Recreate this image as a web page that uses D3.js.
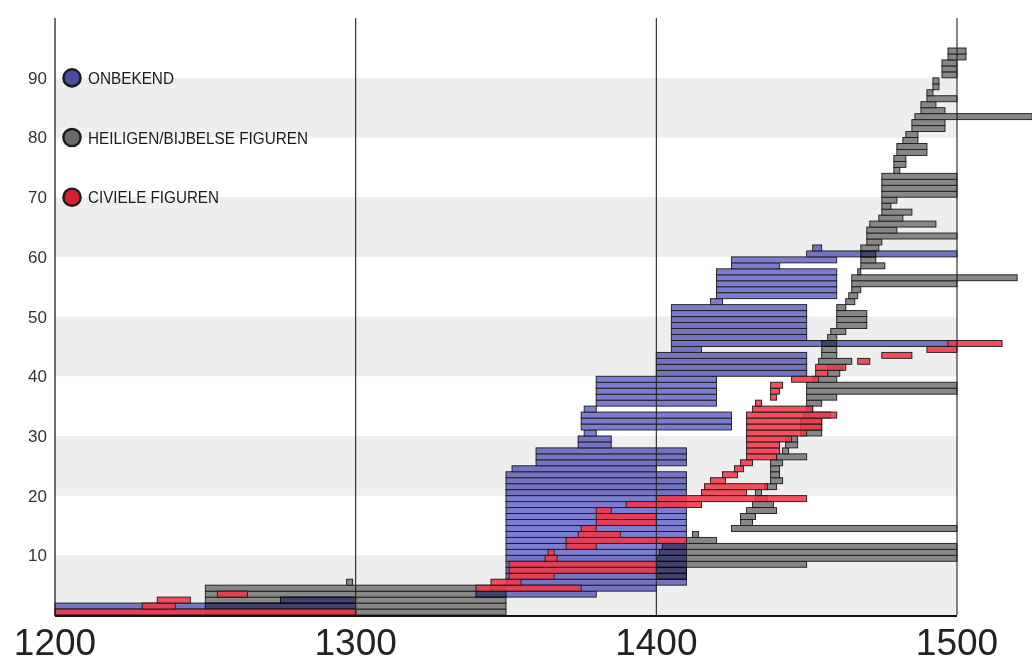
<!DOCTYPE html>
<html><head><meta charset="utf-8">
<script src="https://cdn.jsdelivr.net/npm/d3@7"></script>
<style>html,body{margin:0;padding:0;background:#fff;}svg{display:block;}</style>
</head><body>
<svg id="chart" width="1032" height="664"></svg>
<script>
// ---- data: one [start, end] per row (row = index+1), per category ----
const onbekend = [
 [1200,1300],[1200,1300],[1275,1300],[1340,1380],[1345,1400],
 [1350,1410],[1350,1410],[1350,1410],[1350,1410],[1350,1410],
 [1350,1410],[1350,1410],[1350,1410],[1350,1410],[1350,1410],
 [1350,1410],[1350,1410],[1350,1410],[1350,1410],[1350,1410],
 [1350,1410],[1350,1410],[1350,1410],[1350,1410],[1352,1400],
 [1360,1410],[1360,1410],[1360,1410],[1374,1385],[1374,1385],
 [1376,1380],[1375,1425],[1375,1425],[1375,1425],[1376,1380],
 [1380,1420],[1380,1420],[1380,1420],[1380,1420],[1380,1420],
 [1400,1450],[1400,1450],[1400,1450],[1400,1450],[1405,1415],
 [1405,1500],[1405,1450],[1405,1450],[1405,1450],[1405,1450],
 [1405,1450],[1405,1450],[1418,1422],[1420,1460],[1420,1460],
 [1420,1460],[1420,1460],[1420,1460],[1425,1441],[1425,1460],
 [1450,1500],[1452,1455]
];
const heiligen = [
 [1250,1350],[1250,1350],[1250,1350],[1250,1350],[1250,1350],
 [1297,1299],[1400,1410],[1400,1410],[1400,1450],[1400,1500],
 [1401,1500],[1402,1500],[1410,1420],[1412,1414],[1425,1500],
 [1428,1432],[1428,1433],[1430,1440],[1432,1439],[1433,1437],
 [1433,1435],[1436,1440],[1438,1442],[1438,1441],[1438,1441],
 [1438,1442],[1440,1450],[1442,1444],[1443,1447],[1443,1447],
 [1448,1455],[1448,1455],[1448,1455],[1449,1458],[1450,1452],
 [1450,1455],[1450,1460],[1450,1500],[1450,1500],[1452,1460],
 [1457,1461],[1457,1462],[1454,1465],[1455,1460],[1455,1460],
 [1455,1460],[1457,1460],[1458,1463],[1460,1470],[1460,1470],
 [1460,1470],[1460,1463],[1463,1466],[1464,1467],[1465,1468],
 [1465,1500],[1465,1520],[1467,1468],[1468,1476],[1468,1473],
 [1468,1473],[1468,1474],[1470,1475],[1470,1500],[1470,1480],
 [1471,1493],[1474,1482],[1475,1485],[1475,1478],[1475,1480],
 [1475,1500],[1475,1500],[1475,1500],[1475,1500],[1479,1481],
 [1479,1483],[1479,1483],[1480,1490],[1480,1490],[1482,1487],
 [1483,1487],[1485,1496],[1485,1496],[1486,1525],[1488,1496],
 [1488,1493],[1490,1500],[1490,1492],[1492,1494],[1492,1494],
 [1495,1500],[1495,1500],[1495,1500],[1497,1503],[1497,1503]
];
const civiele = [
 [1200,1300],[1229,1240],[1234,1245],[1254,1264],[1340,1375],
 [1345,1355],[1351,1366],[1351,1400],[1351,1400],[1363,1367],
 [1364,1366],[1370,1380],[1370,1410],[1374,1388],[1375,1380],
 [1380,1400],[1380,1400],[1380,1385],[1390,1415],[1400,1450],
 [1415,1430],[1416,1437],[1418,1423],[1422,1427],[1426,1429],
 [1428,1432],[1430,1440],[1430,1441],[1430,1441],[1430,1445],
 [1430,1450],[1430,1455],[1430,1455],[1430,1460],[1432,1452],
 [1433,1435],[1438,1440],[1438,1441],[1438,1442],[1445,1454],
 [1453,1457],[1453,1463],[1467,1471],[1475,1485],[1490,1500],
 [1497,1515]
];
const xTicks = [1200, 1300, 1400, 1500];
const yTicks = [10, 20, 30, 40, 50, 60, 70, 80, 90];
const bands = [[0,10],[20,30],[40,50],[60,70],[80,90]];
const legendItems = [
 {label:"ONBEKEND", at:90, color:"#4d4d9e"},
 {label:"HEILIGEN/BIJBELSE FIGUREN", at:80, color:"#6b6b6b"},
 {label:"CIVIELE FIGUREN", at:70, color:"#d4202f"}
];
const legendWidths = [86, 220, 131];

// ---- drawing ----
const svg = d3.select("#chart");
const x = d3.scaleLinear().domain([1200,1500]).range([55,957]);
const y = d3.scaleLinear().domain([0,95]).range([615,48]);
const plotTop = 18;

svg.append("g").selectAll("rect").data(bands).join("rect")
  .attr("x", x(1200)).attr("width", x(1500)-x(1200))
  .attr("y", d => y(d[1])).attr("height", d => y(d[0]) - y(d[1]))
  .attr("fill", "#eeeeee");

function drawSeries(data, fill, extra) {
  const g = svg.append("g");
  const r = g.selectAll("rect").data(data).join("rect")
    .attr("x", d => x(d[0]))
    .attr("width", d => x(d[1]) - x(d[0]))
    .attr("y", (d,i) => y(i+1))
    .attr("height", (d,i) => y(i) - y(i+1))
    .attr("fill", fill)
    .attr("stroke", "#1a1a1a")
    .attr("stroke-width", 0.9);
  if (extra) extra(g, r);
}
drawSeries(heiligen, "#878787");
drawSeries(onbekend, "#7c7cd0", (g) => g.style("mix-blend-mode","multiply"));
drawSeries(civiele, "#f03848", (g, r) => r.attr("fill-opacity", 0.88));

// grid lines
svg.append("g").selectAll("line").data(xTicks.slice(1)).join("line")
  .attr("x1", d => x(d)).attr("x2", d => x(d))
  .attr("y1", plotTop).attr("y2", y(0))
  .attr("stroke", "#222").attr("stroke-width", 1.1);

// axes
svg.append("line").attr("x1", x(1200)).attr("x2", x(1200)).attr("y1", plotTop).attr("y2", y(0)+1)
  .attr("stroke", "#222").attr("stroke-width", 1.3);
svg.append("line").attr("x1", x(1200)).attr("x2", x(1500)).attr("y1", y(0)+1).attr("y2", y(0)+1)
  .attr("stroke", "#111").attr("stroke-width", 2.2);

// y tick labels
svg.append("g").selectAll("text").data(yTicks).join("text")
  .attr("x", 47).attr("y", d => y(d)).attr("dy", "0.35em")
  .attr("text-anchor", "end")
  .attr("font-family", "Liberation Sans, Arial, sans-serif")
  .attr("font-size", 17).attr("fill", "#333")
  .text(d => d);

// x tick labels
svg.append("g").selectAll("text").data(xTicks).join("text")
  .attr("x", d => x(d)).attr("y", 655)
  .attr("text-anchor", "middle")
  .attr("font-family", "Liberation Sans, Arial, sans-serif")
  .attr("font-size", 37).attr("fill", "#222")
  .text(d => d);

// legend
const lg = svg.append("g").selectAll("g").data(legendItems).join("g");
lg.append("circle").attr("cx", 72).attr("cy", d => y(d.at))
  .attr("r", 8.6).attr("fill", d => d.color)
  .attr("stroke", "#1c1c1c").attr("stroke-width", 2.4);
lg.append("text").attr("x", 88).attr("y", d => y(d.at)).attr("dy", "0.36em")
  .attr("font-family", "Liberation Sans Narrow, Arial Narrow, Liberation Sans, sans-serif")
  .attr("font-size", 17).attr("fill", "#1a1a1a")
  .attr("textLength", (d,i) => legendWidths[i]).attr("lengthAdjust", "spacingAndGlyphs")
  .text(d => d.label);
</script>
</body></html>
